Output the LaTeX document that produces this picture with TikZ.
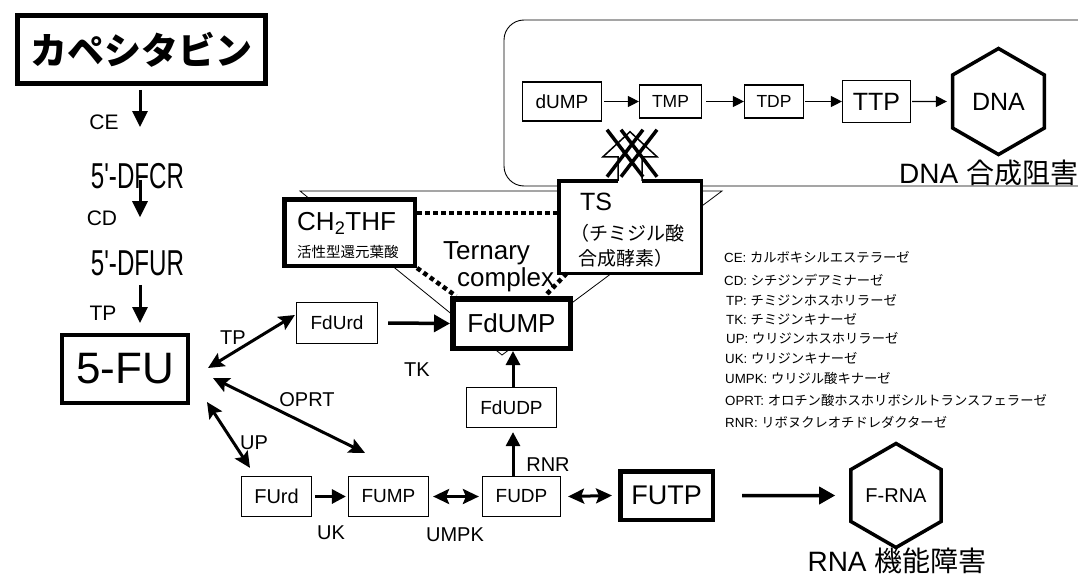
\documentclass[tikz,border=0pt]{standalone}
\usepackage{fontspec}
\setmainfont{Liberation Sans}
\newfontfamily\plainf{Liberation Sans}
\newfontfamily\jp{Noto Sans CJK JP}
\usetikzlibrary{arrows.meta,shapes.geometric,calc}
\newcommand\fsz[1]{\fontsize{#1}{#1}\selectfont}
\begin{document}
\begin{tikzpicture}[x=1pt,y=-1pt,
  box/.style={draw,fill=white,inner sep=0pt,line width=1.2pt},
  lab/.style={inner sep=0pt,font=\fsz{20}},
  leg/.style={inner sep=0pt,anchor=west,font=\fsz{13.3}},
  hexa/.style={draw,fill=white,regular polygon,regular polygon sides=6,shape border rotate=30,inner sep=0pt,line width=3.5pt},
  arrL/.style={line width=3pt,-{Triangle[length=16pt,width=15pt]}},
  arr/.style={line width=3pt,-{Triangle[length=14pt,width=14pt]}},
  darr/.style={line width=3pt,{Stealth[length=16pt,width=15pt,inset=3pt]}-{Stealth[length=16pt,width=15pt,inset=3pt]}},
  tarr/.style={line width=1.2pt,-{Triangle[length=11pt,width=11pt]}},
  dots/.style={line width=4.5pt,dash pattern=on 4.5pt off 3.5pt}
]
\useasboundingbox (0,0) rectangle (1078,578);

% background shapes
\draw[line width=0.8pt] (300,191) -- (722,191) -- (502,355) -- cycle;
\draw[line width=0.9pt,rounded corners=20pt] (504,20) rectangle (1140,186);

% left column
\node[box,line width=4.5pt,minimum width=248pt,minimum height=68pt] (cap) at (141.5,49.5) {\jp\bfseries\fsz{37}カペシタビン};
\node[inner sep=0pt] (dfcr) at (137.5,176) {\scalebox{0.67}[1]{\plainf\fsz{36}5'-DFCR}};
\node[inner sep=0pt] (dfur) at (137.5,263.5) {\scalebox{0.67}[1]{\plainf\fsz{36}5'-DFUR}};
\node[box,line width=4pt,minimum width=126pt,minimum height=68pt,font=\fsz{44}] (FU) at (125,369) {5-FU};
\node[lab,font=\fsz{21}] (lCE) at (104,122) {CE};
\node[lab,font=\fsz{21}] (lCD) at (102,218) {CD};
\node[lab,font=\fsz{21}] (lTP) at (103,313) {TP};

\draw[arrL] ([xshift=-1.5pt,yshift=-4pt]cap.south) -- ([xshift=2.5pt,yshift=36pt]dfcr.north);
\draw[arrL] ([xshift=2.5pt,yshift=9pt]dfcr.south) -- ([xshift=2.5pt,yshift=33.5pt]dfur.north);
\draw[arrL] ([xshift=2.5pt,yshift=-8.5pt]dfur.south) -- ([xshift=15pt,yshift=10pt]FU.north);

% middle nodes
\node[box,minimum width=81pt,minimum height=41pt,font=\fsz{19}] (FdUrd) at (337,323) {FdUrd};
\node[box,line width=5.5pt,minimum width=117.5pt,minimum height=49.5pt,font=\fsz{26}] (FdUMP) at (511.5,323.5) {FdUMP};
\node[box,line width=4.5pt,minimum width=130.5pt,minimum height=66.5pt] (CH) at (349.5,232.5) {};
\node[inner sep=0pt,anchor=west,font=\fsz{26}] (chA) at (297,223) {CH\textsubscript{2}THF};
\node[inner sep=0pt,anchor=west,font=\jp\fsz{14.5}] (chB) at (297,252) {活性型還元葉酸};
\node[inner sep=0pt,anchor=west,font=\fsz{26}] (tern) at (443,253) {Ternary};
\node[inner sep=0pt,anchor=west,font=\fsz{26}] (comp) at (457,280) {complex};

\node[box,minimum width=90pt,minimum height=40pt,font=\fsz{19}] (FdUDP) at (511.5,407.5) {FdUDP};
\node[box,minimum width=70pt,minimum height=40pt,font=\fsz{20}] (FUrd) at (276.5,496.5) {FUrd};
\node[box,minimum width=80pt,minimum height=40pt,font=\fsz{19}] (FUMP) at (388.5,496.5) {FUMP};
\node[box,minimum width=78pt,minimum height=40pt,font=\fsz{19}] (FUDP) at (521.5,496.5) {FUDP};
\node[box,line width=4.5pt,minimum width=92.5pt,minimum height=48.5pt,font=\fsz{27}] (FUTP) at (666.5,495.5) {FUTP};
\node[hexa,minimum size=104pt,font=\fsz{20}] (FRNA) at (896,495.5) {F-RNA};
\node[inner sep=0pt,font=\fsz{28}] (rnat) at (897,561) {RNA {\jp 機能障害}};

% labels
\node[lab] (lTP2) at (233,338) {TP};
\node[lab] (lOPRT) at (307,400) {OPRT};
\node[lab] (lUP) at (254,443) {UP};
\node[lab] (lUK) at (331,533) {UK};
\node[lab] (lUMPK) at (455,535) {UMPK};
\node[lab] (lRNR) at (548,465) {RNR};
\node[lab] (lTK) at (417,370) {TK};

% connectors (middle)
\draw[darr] ($(FU.east)+(18,-1)$) -- ($(FdUrd.west)+(-1,-8)$);
\draw[darr] ($(FU.east)+(23,9)$) -- ($(FUMP.north)+(-23.5,-23)$);
\draw[darr] ($(FU.south east)+(17,-3)$) -- ($(FUrd.north)+(-26.5,-8)$);
\draw[line width=3.5pt,-{Triangle[length=16pt,width=17pt]}] ([xshift=10pt]FdUrd.east) -- (FdUMP.west);
\draw[arr] ([xshift=3pt]FUrd.east) -- ([xshift=-2pt]FUMP.west);
\draw[darr] ([xshift=4pt]FUMP.east) -- ([xshift=-3pt]FUDP.west);
\draw[darr] ([xshift=7pt]FUDP.east) -- ([xshift=-6pt]FUTP.west);
\draw[arr] ([xshift=1.5pt]FdUDP.south |- FUDP.north) -- ([xshift=1.5pt,yshift=-4pt]FdUDP.south);
\draw[arr] ([xshift=1.5pt]FdUDP.north) -- ([xshift=1.5pt]FdUMP.south);
\draw[line width=3.5pt,-{Triangle[length=16pt,width=17pt]}] ([xshift=27pt]FUTP.east) -- ([xshift=-14pt]FRNA.west);

% top pathway
\node[box,minimum width=79pt,minimum height=39pt,font=\fsz{19}] (dUMP) at (562,101.5) {dUMP};
\node[box,minimum width=62pt,minimum height=33pt,font=\fsz{17.5}] (TMP) at (670.5,101.5) {TMP};
\node[box,minimum width=59pt,minimum height=33pt,font=\fsz{17.5}] (TDP) at (774,101.5) {TDP};
\node[box,minimum width=68pt,minimum height=42pt,font=\fsz{25}] (TTP) at (876.5,101.5) {TTP};
\node[hexa,minimum size=106pt,font=\fsz{25}] (DNA) at (998.5,101.5) {DNA};
\node[inner sep=0pt,anchor=west,font=\fsz{28}] (dnat) at (899,173) {DNA {\jp 合成阻害}};
\draw[tarr] ([xshift=2pt]dUMP.east) -- (TMP.west);
\draw[tarr] ([xshift=4pt]TMP.east) -- (TDP.west);
\draw[tarr] ([xshift=1pt]TDP.east) -- (TTP.west);
\draw[tarr] ([xshift=1pt]TTP.east) -- ([xshift=-4pt]DNA.west);

% TS enzyme
\node[inner sep=0pt,outer sep=0pt,fill=white,minimum width=142.5pt,minimum height=92.5pt] (TS) at (630,227) {};
\draw[line width=1.5pt,fill=white,line join=miter] ($(TS.north)+(-12,0)$) -- ++(0,-24) -- ++(-15,0) -- ($(TS.north)+(0,-49)$) -- ($(TS.north)+(27,-24)$) -- ++(-15,0) -- ($(TS.north)+(12,0)$);
\draw[line width=3.5pt] ($(TS.north)+(-12,0)$) -- (TS.north west) -- (TS.south west) -- (TS.south east) -- (TS.north east) -- ($(TS.north)+(12,0)$);
\draw[line width=3.5pt] ($(TS.north)+(-23,-51)$) -- ($(TS.north)+(13,-4)$);
\draw[line width=3.5pt] ($(TS.north)+(-23,-4)$) -- ($(TS.north)+(13,-51)$);
\draw[line width=3.5pt] ($(TS.north)+(-9,-51)$) -- ($(TS.north)+(27,-4)$);
\draw[line width=3.5pt] ($(TS.north)+(-9,-4)$) -- ($(TS.north)+(27,-51)$);
\node[inner sep=0pt,anchor=west,font=\fsz{25}] (tsA) at (580,202) {TS};
\node[inner sep=0pt,anchor=west,font=\jp\fsz{19}] (tsB) at (570.5,233) {（チミジル酸};
\node[inner sep=0pt,anchor=west,font=\jp\fsz{19}] (tsC) at (578,258) {合成酵素）};

% ternary complex dotted links
\draw[dots] ([yshift=19.5pt]CH.east) -- ([yshift=14pt]TS.west);
\draw[dots] (CH.south east) -- ([xshift=6pt]FdUMP.north west);
\draw[dots] ([xshift=8pt]TS.south west) -- ([xshift=-28pt]FdUMP.north east);

% legend
\node[leg] (g1) at (724,257) {CE: {\jp カルボキシルエステラーゼ}};
\node[leg] (g2) at (724,280) {CD: {\jp シチジンデアミナーゼ}};
\node[leg] (g3) at (726,300) {TP: {\jp チミジンホスホリラーゼ}};
\node[leg] (g4) at (726,319) {TK: {\jp チミジンキナーゼ}};
\node[leg] (g5) at (726,338) {UP: {\jp ウリジンホスホリラーゼ}};
\node[leg] (g6) at (725,358) {UK: {\jp ウリジンキナーゼ}};
\node[leg] (g7) at (725,378) {UMPK: {\jp ウリジル酸キナーゼ}};
\node[leg] (g8) at (725,400) {OPRT: {\jp オロチン酸ホスホリボシルトランスフェラーゼ}};
\node[leg] (g9) at (725,422) {RNR: {\jp リボヌクレオチドレダクターゼ}};
\end{tikzpicture}
\end{document}
